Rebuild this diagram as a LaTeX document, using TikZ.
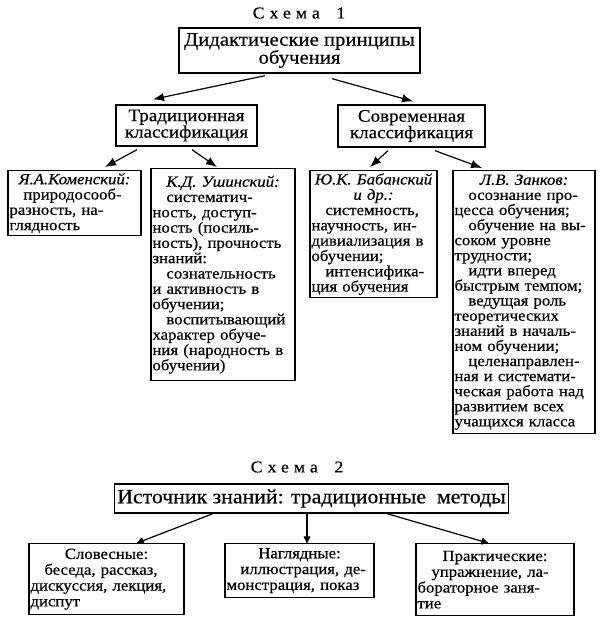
\documentclass[tikz,border=0pt]{standalone}
\usepackage{fontspec}
\setmainfont[FakeStretch=1.08,FakeBold=0.5]{Liberation Serif}
\usetikzlibrary{arrows.meta,calc}
\setlength\parindent{0pt}
\setlength\parskip{0pt}
\newcommand\hd[1]{{\centering\itshape #1\par}}
\newcommand\hdu[1]{{\centering #1\par}}
\newcommand\ind{\hspace*{0.9em}}
\begin{document}
\begin{tikzpicture}[x=1pt,y=-1pt,
  frame/.style={draw, line width=1.3pt, inner ysep=1pt, inner xsep=3pt, align=center},
  tbox/.style={draw, line width=1.3pt, inner ysep=1pt, inner xsep=1.5pt, align=left, anchor=north},
  arr/.style={-{Latex[length=11pt,width=8.5pt]}, line width=1.2pt},
  arrb/.style={-{Latex[length=8pt,width=8pt,round]}, line width=1.2pt},
  ttl/.style={font=\fontsize{16.5}{16}\selectfont\addfontfeature{LetterSpace=30}},
  mid/.style={font=\fontsize{17.6}{16.5}\selectfont},
  small/.style={font=\fontsize{15.5}{15.3}\selectfont},
  smallz/.style={font=\fontsize{15.5}{15.1}\selectfont},
  smallb/.style={font=\fontsize{15.5}{15.8}\selectfont}]
\useasboundingbox (0,0) rectangle (605,626);
% Schema 1
\node[ttl] (t1) at (299,13) {Схема\quad 1};
\node[frame, minimum width=241pt, minimum height=45pt, font=\fontsize{19.2}{18}\selectfont] (top) at (299.5,50.5) {Дидактические принципы\\обучения};
\node[frame, mid, minimum width=141pt, minimum height=41pt] (trad) at (186.5,125.5) {Традиционная\\классификация};
\node[frame, mid, minimum width=147pt, minimum height=42pt] (sovr) at (411.5,126) {Современная\\классификация};

\node[tbox, small, text width=130pt, minimum height=65pt] (kom) at (74.5,170) {\hd{Я.А.Коменский:}\ind природосооб-\\разность, на-\\глядность};
\node[tbox, small, text width=141pt, minimum height=212pt] (ush) at (223,168) {\hd{К.Д. Ушинский:}\ind систематич-\\ность, доступ-\\ность (посиль-\\ность),~прочность\\знаний:\\\ind сознательность\\и~активность~в\\обучении;\\\ind воспитывающий\\характер~обуче-\\ния~(народность~в\\обучении)};
\node[tbox, small, text width=124pt, minimum height=127pt] (bab) at (373.5,170) {\hd{Ю.К.~Бабанский}\hd{и~др.:}\ind системность,\\научность,~ин-\\дивиализация~в\\обучении;\\\ind интенсифика-\\ция~обучения};
\node[tbox, smallz, text width=139pt, minimum height=263pt] (zan) at (524,170) {\hd{Л.В. Занков:}\ind осознание~про-\\цесса~обучения;\\\ind обучение~на~вы-\\соком~уровне\\трудности;\\\ind идти~вперед\\быстрым~темпом;\\\ind ведущая~роль\\теоретических\\знаний~в~началь-\\ном~обучении;\\\ind целенаправлен-\\ная~и~системати-\\ческая~работа~над\\развитием~всех\\учащихся~класса};

\draw[arr] ($(top.south)+(-34.5,2)$) -- ($(trad.north)+(-33.5,-5)$);
\draw[arr] ($(top.south)+(32.5,5)$) -- ($(sovr.north)+(1.5,-3)$);
\draw[arr] ($(trad.south)+(-49.5,3)$) -- ($(kom.north)+(30.5,-3)$);
\draw[arr] ($(trad.south)+(5.5,3)$) -- ($(ush.north)+(-6,-1)$);
\draw[arr] ($(sovr.south)+(-23.5,3)$) -- ($(bab.north)+(-3.5,-3)$);
\draw[arr] ($(sovr.south)+(23.5,3)$) -- ($(zan.north)+(-42,-2)$);

% Schema 2
\node[ttl] (t2) at (297,467) {Схема\quad 2};
\node[frame, minimum width=393pt, minimum height=29pt, font=\fontsize{20.2}{20}\selectfont] (src) at (311.5,498.5) {Источник знаний: традиционные\ \ методы};
\node[tbox, smallb, text width=152pt, minimum height=71pt] (s1) at (106.5,543) {\hdu{Словесные:}\ind беседа,~рассказ,\\дискуссия,~лекция,\\диспут};
\node[tbox, smallb, text width=146pt, minimum height=54pt] (s2) at (299.5,543) {\hdu{Наглядные:}\ind иллюстрация,~де-\\монстрация,~показ};
\node[tbox, smallb, text width=155pt, minimum height=72pt] (s3) at (495,543) {\hdu{Практические:}\ind упражнение,~ла-\\бораторное~заня-\\тие};

\draw[arrb] ($(src.south)+(-98.5,0)$) -- ($(s1.north)+(30.5,0)$);
\draw[arrb] ($(src.south)+(-4.5,0)$) -- ($(s2.north)+(7.5,0)$);
\draw[arrb] ($(src.south)+(75.5,0)$) -- ($(s3.north)+(-7,0)$);
\end{tikzpicture}
\end{document}
